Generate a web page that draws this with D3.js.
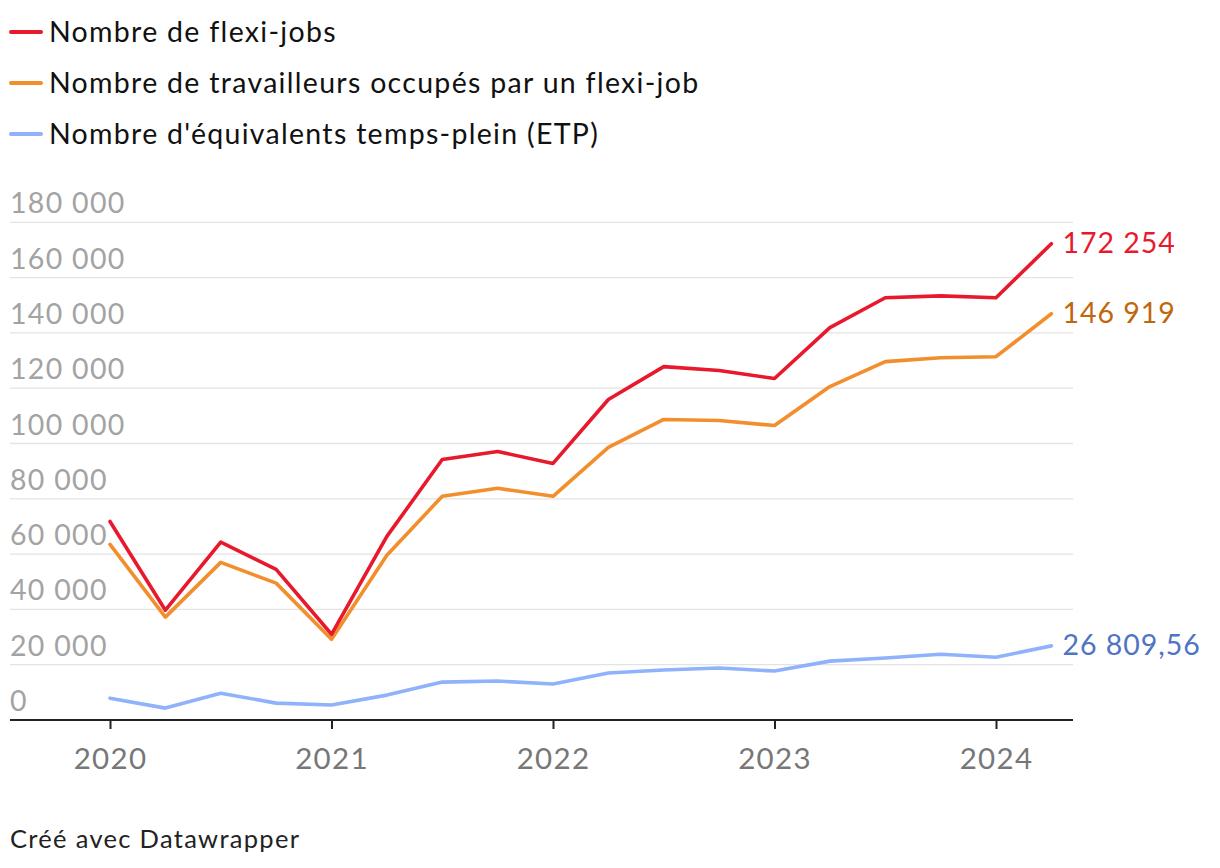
<!DOCTYPE html>
<html><head><meta charset="utf-8">
<script src="https://cdn.jsdelivr.net/npm/d3@7"></script>
<style>
html,body{margin:0;padding:0;background:#fff;}
svg{display:block;font-family:Lato, "Noto Sans", sans-serif;}
</style></head>
<body>
<svg id="c" width="1220" height="868"></svg>
<script>
const quarters = ["2020-Q1","2020-Q2","2020-Q3","2020-Q4","2021-Q1","2021-Q2","2021-Q3","2021-Q4","2022-Q1","2022-Q2","2022-Q3","2022-Q4","2023-Q1","2023-Q2","2023-Q3","2023-Q4","2024-Q1","2024-Q2"];
const flexiJobs = [71800,39700,64300,54500,31000,66400,94200,97100,92800,115900,127800,126400,123500,141900,152700,153400,152700,172254];
const travailleurs = [63500,37200,57000,49500,29200,59600,80900,83800,80900,98600,108700,108300,106500,120600,129600,131000,131400,146919];
const etp = [7900,4300,9700,6100,5400,9000,13700,14100,13000,17000,18100,18800,17700,21300,22400,23800,22700,26809.56];
const seriesNames = ["Nombre de flexi-jobs","Nombre de travailleurs occupés par un flexi-job","Nombre d'équivalents temps-plein (ETP)"];
const endLabels = ["172 254","146 919","26 809,56"];
const yTicks = [0,20000,40000,60000,80000,100000,120000,140000,160000,180000];
const xTickYears = [2020,2021,2022,2023,2024];
const footer = "Créé avec Datawrapper";

const lineColors = ["#e8192c","#f28e2c","#8fb2fb"];
const labelColors = ["#e8192c","#c0660c","#4f74c4"];

const svg = d3.select("#c");
const toT = q => { const [y, qq] = q.split("-Q"); return +y + (+qq - 1) / 4; };

const x = d3.scaleLinear().domain([2020, 2024]).range([110, 996]);
const y = d3.scaleLinear().domain([0, 180000]).range([720, 222.3]);
const fmt = v => d3.format(",")(v).replace(/,/g, " ");
const LS = "1.3px";

// legend
seriesNames.forEach((n, i) => {
  const cy = 32 + i * 51;
  svg.append("line").attr("x1", 11).attr("x2", 41).attr("y1", cy).attr("y2", cy)
    .attr("stroke", lineColors[i]).attr("stroke-width", 4).attr("stroke-linecap", "round");
  svg.append("text").attr("x", 49).attr("y", cy + 10).attr("font-size", 28.5).attr("letter-spacing", LS)
    .attr("fill", "#111").text(n);
});

// gridlines
svg.append("g").selectAll("line").data(yTicks.filter(d => d > 0)).join("line")
  .attr("x1", 10).attr("x2", 1073).attr("y1", d => y(d)).attr("y2", d => y(d))
  .attr("stroke", "#e3e3e3").attr("stroke-width", 1.3);

svg.append("g").selectAll("text").data(yTicks).join("text")
  .attr("x", 10).attr("y", d => y(d) - 9).attr("font-size", 28.5).attr("letter-spacing", LS).attr("fill", "#a3a3a3")
  .text(d => fmt(d));

// x axis
const xAxis = d3.axisBottom(x).tickValues(xTickYears).tickFormat(d3.format("d")).tickSize(9).tickPadding(13);
const gx = svg.append("g").attr("transform", "translate(0,720)").call(xAxis);
gx.select(".domain").remove();
gx.selectAll(".tick line").attr("stroke", "#222").attr("stroke-width", 2);
gx.selectAll(".tick text").attr("font-size", 29.5).attr("fill", "#777").attr("letter-spacing", LS)
  .attr("font-family", "Lato, sans-serif").attr("dy", "0.9em");
svg.append("line").attr("x1", 10).attr("x2", 1073).attr("y1", 720).attr("y2", 720).attr("stroke", "#222").attr("stroke-width", 2);

// lines
const all = [flexiJobs, travailleurs, etp];
const line = d3.line().x((d, i) => x(toT(quarters[i]))).y(d => y(d));
[2, 1, 0].forEach(i => {
  svg.append("path").datum(all[i]).attr("d", line).attr("fill", "none")
    .attr("stroke", lineColors[i]).attr("stroke-width", 3.6).attr("stroke-linejoin", "round").attr("stroke-linecap", "round");
});

// end labels
all.forEach((s, i) => {
  const last = s[s.length - 1];
  svg.append("text").attr("x", x(toT(quarters[quarters.length - 1])) + 11).attr("y", y(last) + 9)
    .attr("font-size", 28.5).attr("letter-spacing", "1px").attr("fill", labelColors[i]).text(endLabels[i]);
});

svg.append("text").attr("x", 10).attr("y", 848).attr("font-size", 25.5).attr("letter-spacing", LS)
  .attr("fill", "#222").text(footer);
</script>
</body></html>
